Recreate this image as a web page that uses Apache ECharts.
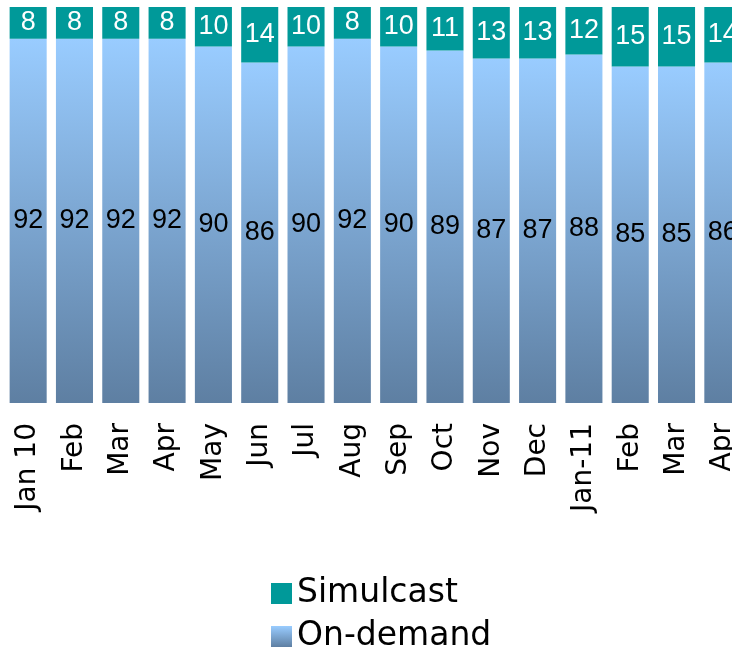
<!DOCTYPE html>
<html>
<head>
<meta charset="utf-8">
<script src="https://cdn.jsdelivr.net/npm/echarts@6/dist/echarts.min.js"></script>
<style>
    html, body { margin: 0; padding: 0; background: #fff; }
    #chart { width: 732px; height: 655px; }
</style>
</head>
<body>
<div id="chart"></div>
<script>
// 数据
const months = ['Jan 10', 'Feb', 'Mar', 'Apr', 'May', 'Jun', 'Jul', 'Aug', 'Sep', 'Oct', 'Nov', 'Dec', 'Jan-11', 'Feb', 'Mar', 'Apr']
const onDemand = [92, 92, 92, 92, 90, 86, 90, 92, 90, 89, 87, 87, 88, 85, 85, 86]
const simulcast = [8, 8, 8, 8, 10, 14, 10, 8, 10, 11, 13, 13, 12, 15, 15, 14]

const chart = echarts.init(document.getElementById('chart'))

const narrow = "'Liberation Sans Narrow', 'Liberation Sans', Arial, sans-serif"
const blueGrad = new echarts.graphic.LinearGradient(0, 0, 0, 1, [
    { offset: 0, color: 'rgb(153, 204, 255)' },
    { offset: 1, color: 'rgb(94, 127, 162)' }
])

const option = {
    animation: false,
    grid: {
        left: 5,
        right: -14,
        top: 7,
        bottom: 252,
        outerBoundsMode: 'none',
        containLabel: false
    },
    legend: {
        orient: 'vertical',
        left: 266,
        top: 572,
        height: 100,
        itemWidth: 21,
        itemHeight: 21,
        itemGap: 10,
        icon: 'rect',
        data: ['Simulcast', 'On-demand'],
        textStyle: {
            fontFamily: 'DejaVu Sans',
            fontSize: 33,
            color: '#000'
        }
    },
    xAxis: {
        type: 'category',
        data: months,
        axisLine: { show: false },
        axisTick: { show: false },
        axisLabel: {
            rotate: 90,
            interval: 0,
            margin: 20,
            fontFamily: 'DejaVu Sans',
            fontSize: 28,
            color: '#000'
        }
    },
    yAxis: {
        type: 'value',
        min: 0,
        max: 100,
        show: false
    },
    series: [
        {
            name: 'On-demand',
            type: 'bar',
            stack: 'total',
            data: onDemand,
            barCategoryGap: '20%',
            itemStyle: { color: blueGrad },
            label: {
                show: true,
                position: 'inside',
                color: '#000',
                fontFamily: narrow,
                fontSize: 27
            }
        },
        {
            name: 'Simulcast',
            type: 'bar',
            stack: 'total',
            data: simulcast,
            barCategoryGap: '20%',
            itemStyle: { color: '#009999' },
            label: {
                show: true,
                position: 'inside',
                color: '#fff',
                fontFamily: narrow,
                fontSize: 27
            }
        }
    ]
}
chart.setOption(option)
</script>
</body>
</html>
